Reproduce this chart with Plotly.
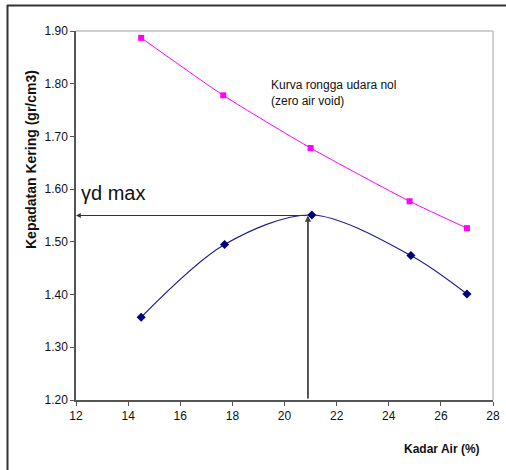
import plotly.graph_objects as go

# Data
kadar_air_zav = [14.5, 17.65, 21.0, 24.8, 27.0]
gamma_zav = [1.887, 1.778, 1.678, 1.577, 1.526]
kadar_air = [14.5, 17.7, 21.05, 24.85, 27.0]
gamma_d = [1.357, 1.495, 1.551, 1.474, 1.401]
w_opt = 20.9
gd_max = 1.55
x_ticks = [12, 14, 16, 18, 20, 22, 24, 26, 28]
y_ticks = [1.20, 1.30, 1.40, 1.50, 1.60, 1.70, 1.80, 1.90]

W, H = 506, 470
L, R, T, B = 76, 13, 31, 70
pw, ph = W - L - R, H - T - B

def px(xp):
    return (xp - L) / pw

def py(yp):
    return (H - B - yp) / ph

fig = go.Figure()
fig.add_trace(go.Scatter(x=kadar_air_zav, y=gamma_zav, mode="lines+markers",
                         line=dict(color="#ff00ff", width=1, shape="spline", smoothing=0.6),
                         marker=dict(symbol="square", size=6, color="#ff00ff"),
                         showlegend=False))
fig.add_trace(go.Scatter(x=kadar_air, y=gamma_d, mode="lines+markers",
                         line=dict(color="#1c1c8c", width=1.1, shape="spline", smoothing=0.9),
                         marker=dict(symbol="diamond", size=7, color="#000080"),
                         showlegend=False))

# outer frame (top + left)
fig.add_shape(type="line", xref="paper", yref="paper", x0=px(7), x1=px(506), y0=py(5.5), y1=py(5.5),
              line=dict(color="#333333", width=2))
fig.add_shape(type="line", xref="paper", yref="paper", x0=px(7.5), x1=px(7.5), y0=py(5), y1=py(472),
              line=dict(color="#333333", width=2))
# plot area top/right border
fig.add_shape(type="line", xref="paper", yref="paper", x0=0, x1=1, y0=1, y1=1,
              line=dict(color="#c0c0c0", width=1.5))
fig.add_shape(type="line", xref="paper", yref="paper", x0=1, x1=1, y0=0, y1=1,
              line=dict(color="#c0c0c0", width=1.5))

# arrows
fig.add_annotation(x=x_ticks[0], y=gd_max, ax=w_opt, ay=gd_max, xref="x", yref="y",
                   axref="x", ayref="y", text="", showarrow=True, arrowhead=2,
                   arrowsize=0.8, arrowwidth=1.2, arrowcolor="#333333")
fig.add_annotation(x=w_opt, y=gd_max, ax=w_opt, ay=y_ticks[0], xref="x", yref="y",
                   axref="x", ayref="y", text="", showarrow=True, arrowhead=2,
                   arrowsize=0.7, arrowwidth=1.8, arrowcolor="#444444")

fig.add_annotation(x=px(79), y=py(206), xref="paper", yref="paper", xanchor="left", yanchor="bottom",
                   text="γd max", showarrow=False,
                   font=dict(family="Liberation Sans, Arial", size=20, color="#111111"))
fig.add_annotation(x=px(269), y=py(76), xref="paper", yref="paper", xanchor="left", yanchor="top",
                   text="Kurva rongga udara nol<br>(zero air void)", showarrow=False, align="left",
                   font=dict(family="Liberation Sans, Arial", size=12, color="#111111"))
fig.add_annotation(x=px(442), y=py(449), xref="paper", yref="paper", xanchor="center", yanchor="middle",
                   text="<b>Kadar Air (%)</b>", showarrow=False,
                   font=dict(family="Liberation Sans, Arial", size=12, color="#111111"))
fig.add_annotation(x=px(31), y=py(160), xref="paper", yref="paper", xanchor="center", yanchor="middle",
                   text="<b>Kepadatan Kering (gr/cm3)</b>", textangle=-90, showarrow=False,
                   font=dict(family="Liberation Sans, Arial", size=14, color="#111111"))

fig.update_layout(width=W, height=H, margin=dict(l=L, r=R, t=T, b=B, autoexpand=False),
                  paper_bgcolor="white", plot_bgcolor="white",
                  font=dict(family="Liberation Sans, Arial", size=12, color="#111111"))
fig.update_xaxes(range=[12, 28], tickvals=x_ticks, ticktext=[str(v) for v in x_ticks],
                 showgrid=False, zeroline=False, showline=True, linecolor="#555555", linewidth=1.5,
                 ticks="outside", ticklen=4, tickcolor="#555555", automargin=False)
fig.update_yaxes(range=[1.2, 1.9], tickvals=y_ticks, ticktext=[f"{v:.2f}" for v in y_ticks],
                 showgrid=False, zeroline=False, showline=True, linecolor="#555555", linewidth=1.5,
                 ticks="outside", ticklen=4, tickcolor="#555555", automargin=False)

fig.write_html("out.html", config={"displayModeBar": False},
               post_script="document.body.style.margin='0';document.body.style.overflow='hidden';")
